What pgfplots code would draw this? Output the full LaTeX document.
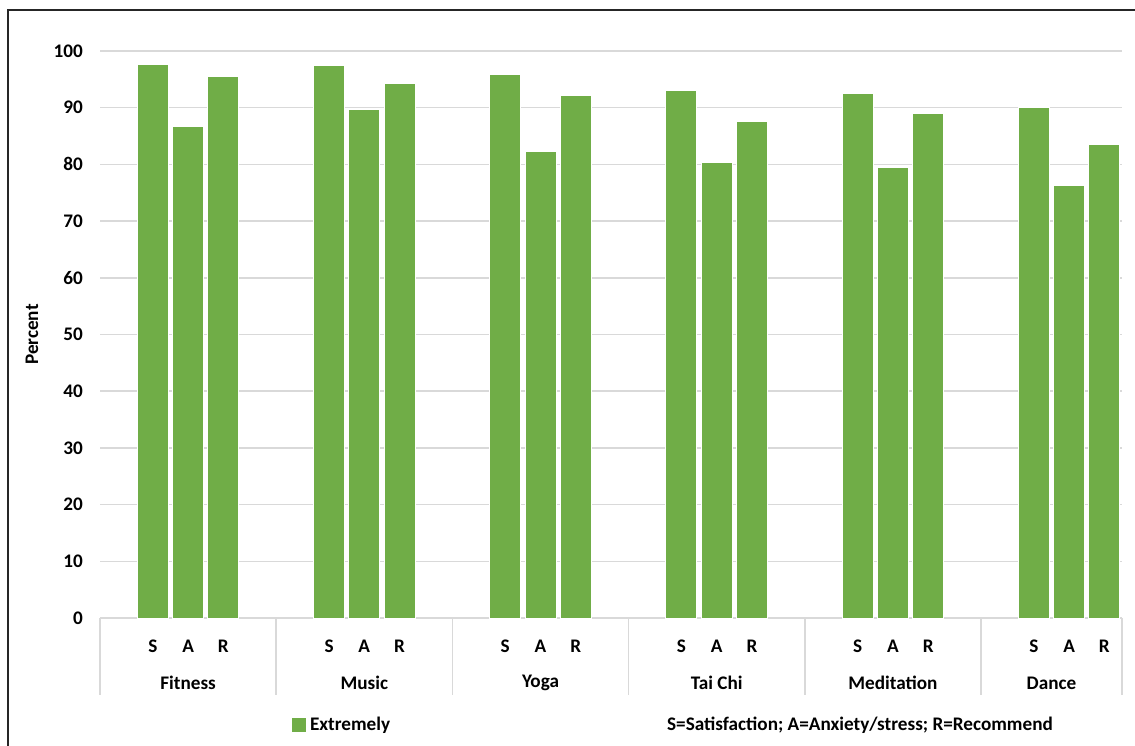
\documentclass[border=0pt]{standalone}
\usepackage{pgfplots}
\pgfplotsset{compat=1.18}
\usepackage{fontspec}
\setmainfont{Carlito}
\definecolor{barg}{HTML}{70AD47}
\definecolor{gridg}{HTML}{D9D9D9}
\newcommand{\ff}{\fontsize{9.6}{11.5}\selectfont\bfseries}
\begin{document}
\begin{tikzpicture}[font=\ff]
\useasboundingbox (0,0) rectangle (567.5pt,372.5pt);
\clip (0,0) rectangle (567.5pt,372.5pt);
\draw[line width=1pt, black!85] (4pt,-10pt) -- (4pt,367.5pt) -- (620pt,367.5pt);
\begin{axis}[
  at={(50pt,63.5pt)}, anchor=origin,
  scale only axis, width=511pt, height=283.5pt,
  xmin=0, xmax=29, ymin=0, ymax=100,
  axis line style={draw=none},
  ytick={0,10,...,100},
  ymajorgrids, grid style={gridg, line width=0.8pt},
  ytick style={draw=none},
  /pgf/number format/assume math mode=true,
  yticklabel style={font=\ff, xshift=-5pt},
  xtick={1.5,2.5,3.5,6.5,7.5,8.5,11.5,12.5,13.5,16.5,17.5,18.5,21.5,22.5,23.5,26.5,27.5,28.5},
  xticklabels={S,A,R,S,A,R,S,A,R,S,A,R,S,A,R,S,A,R},
  xtick style={draw=none},
  xticklabel style={anchor=center, yshift=-10pt},
  ylabel={Percent},
  every axis y label/.style={at={(axis description cs:-0.0665,0.5)}, rotate=90, anchor=center},
  clip=false,
  ybar, bar width=0.88,
  legend style={at={(axis description cs:0.2378,-0.1887)}, anchor=center, draw=none, fill=none, font=\ff},
  legend image code/.code={\fill[barg] (0pt,-3.3pt) rectangle (6.6pt,3.3pt);},
]
\addplot[fill=barg, draw=white, line width=0.5pt] coordinates {
  (1.5,97.7) (2.5,86.6) (3.5,95.5)
  (6.5,97.5) (7.5,89.6) (8.5,94.3)
  (11.5,95.9) (12.5,82.2) (13.5,92.2)
  (16.5,93.1) (17.5,80.3) (18.5,87.5)
  (21.5,92.5) (22.5,79.5) (23.5,88.9)
  (26.5,90.1) (27.5,76.3) (28.5,83.5)
};
\addlegendentry{Extremely}
\pgfplotsinvokeforeach{0,5,10,15,20,25,29}{
  \draw[gridg, line width=0.8pt] (axis cs:#1,0) -- ++(0pt,-38.5pt);
}
\node at (axis cs:2.5,0) [yshift=-32.5pt] {Fitness};
\node at (axis cs:7.5,0) [yshift=-32.5pt] {Music};
\node at (axis cs:12.5,0) [yshift=-32.5pt] {Yoga};
\node at (axis cs:17.5,0) [yshift=-32.5pt] {Tai Chi};
\node at (axis cs:22.5,0) [yshift=-32.5pt] {Meditation};
\node at (axis cs:27,0) [yshift=-32.5pt] {Dance};
\end{axis}
\node at (430pt,10pt) {S=Satisfaction; A=Anxiety/stress; R=Recommend};
\end{tikzpicture}
\end{document}
